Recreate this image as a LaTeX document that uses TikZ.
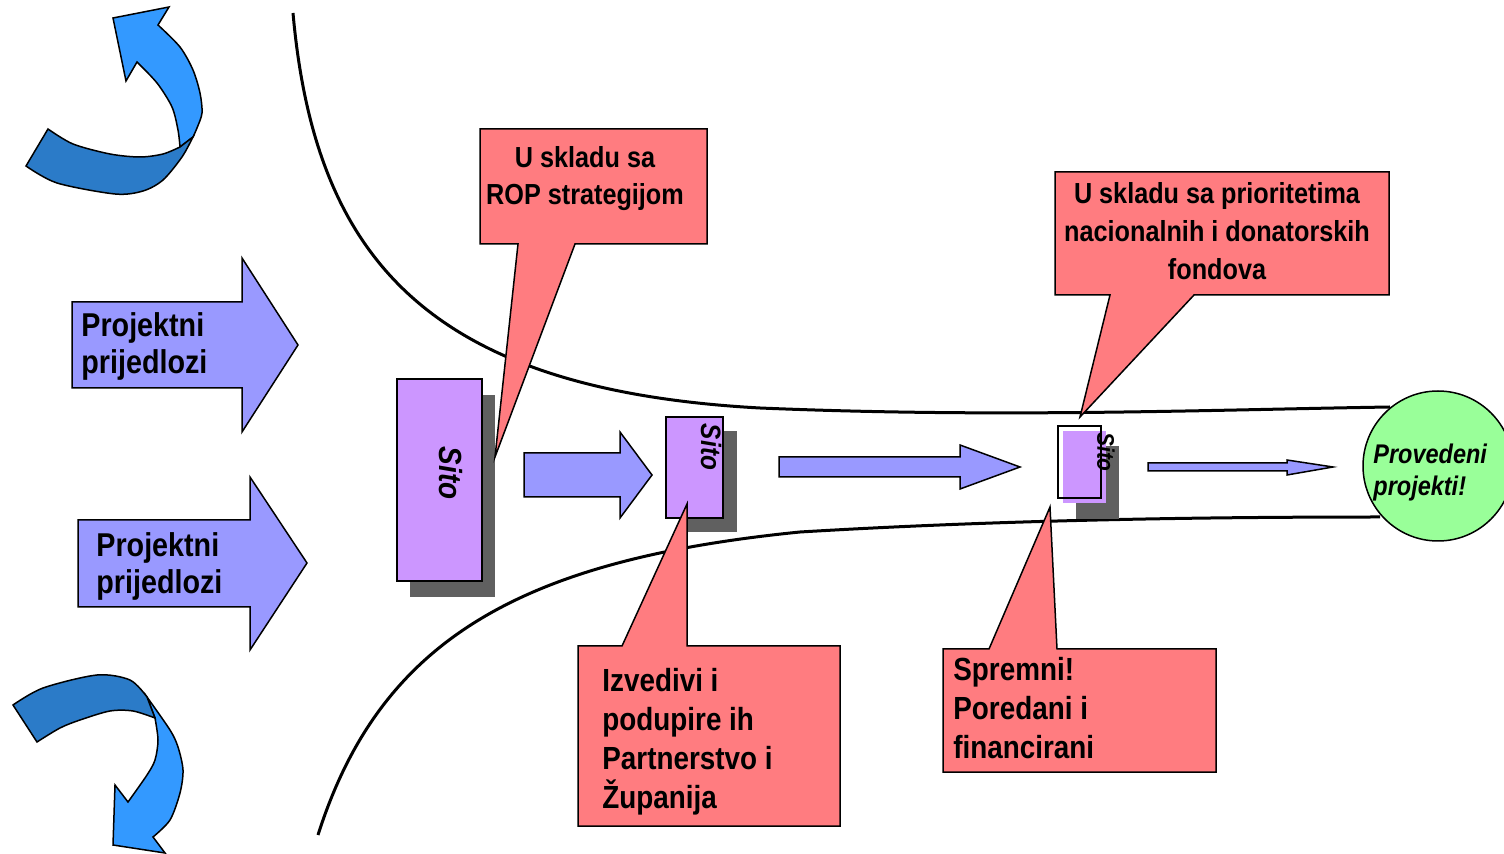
\documentclass[tikz,border=0pt]{standalone}
\usepackage{fontspec}
\setmainfont[FakeStretch=0.87]{Liberation Sans}
\usepackage{tikz}

\definecolor{arrowblue}{RGB}{153,153,255}
\definecolor{sitopurple}{RGB}{204,150,255}
\definecolor{callred}{RGB}{255,124,128}
\definecolor{donegreen}{RGB}{153,255,153}
\definecolor{ribbonlight}{RGB}{51,153,255}
\definecolor{ribbondark}{RGB}{43,123,200}
\definecolor{shadowgray}{RGB}{96,96,96}

\begin{document}
\begin{tikzpicture}[x=0.5pt,y=-0.5pt,
    funnel/.style={line width=1.5pt},
    blockarrow/.style={draw,fill=arrowblue,line width=0.75pt},
    ribbon/.style={draw,line width=0.75pt},
    sitobox/.style={draw,fill=sitopurple,line width=0.75pt},
    callout/.style={draw,fill=callred,line width=0.75pt},
    sitotext/.style={inner sep=0pt,rotate=-90,font=\bfseries\itshape},
    bigtext/.style={inner sep=0pt,font=\fontsize{16.5}{18.5}\selectfont\bfseries}]
  \useasboundingbox (0,0) rectangle (1504,854);

  % curved arrows on the left
  \filldraw[ribbon,fill=ribbonlight] plot[smooth] coordinates {(180,147) (178,130) (172,107) (157,83) (137,62)}
    -- (126,81) -- (113,18) -- (169,7) -- (158,25)
    -- plot[smooth] coordinates {(158,25) (180,47) (193,70) (200,93) (202,113) (197,128) (193,137)} -- cycle;
  \filldraw[ribbon,fill=ribbondark] plot[smooth] coordinates {(48,129) (73,144) (110,154) (140,157) (163,154) (180,147)}
    -- plot[smooth] coordinates {(193,137) (182,157) (163,180) (143,191) (115,194) (57,183) (26,166)} -- cycle;
  \filldraw[ribbon,fill=ribbonlight] plot[smooth] coordinates {(155,718) (158,740) (155,760) (147,775) (128,802)}
    -- (115,785) -- (113,845) -- (165,853) -- (153,837)
    -- plot[smooth] coordinates {(153,837) (170,820) (180,793) (183,770) (178,747) (170,730) (147,697)} -- cycle;
  \filldraw[ribbon,fill=ribbondark] plot[smooth] coordinates {(13,705) (43,688) (97,675) (130,680) (147,697)}
    -- plot[smooth] coordinates {(155,718) (133,711) (110,711) (80,720) (60,728) (37,742)} -- cycle;

  % funnel
  \draw[funnel] (293,13) .. controls (315,260) and (430,390) .. (760,408)
    .. controls (1000,418) and (1200,410) .. (1390,407);
  \draw[funnel] (318,835) .. controls (380,640) and (520,560) .. (800,532)
    .. controls (1000,520) and (1200,517) .. (1380,517);

  % incoming proposals
  \filldraw[blockarrow] (72,302) -- (242,302) -- (242,258) -- (298,345) -- (242,432) -- (242,388) -- (72,388) -- cycle;
  \filldraw[blockarrow] (78,520) -- (250,520) -- (250,477) -- (307,563) -- (250,650) -- (250,607) -- (78,607) -- cycle;
  \node[bigtext,anchor=west,align=left] (P-1) at (81,346) {Projektni\\prijedlozi};
  \node[bigtext,anchor=west,align=left] (P-2) at (96,566) {Projektni\\prijedlozi};

  % sieves
  \fill[shadowgray] (410,395) rectangle (495,597);
  \filldraw[sitobox] (397,379) rectangle (482,581);
  \node[sitotext,font=\fontsize{16}{19}\selectfont\bfseries\itshape] (S-1) at (451,473) {Sito};
  \fill[shadowgray] (680,431) rectangle (737,532);
  \filldraw[sitobox] (666,417) rectangle (723,518);
  \node[sitotext,font=\fontsize{14}{17}\selectfont\bfseries\itshape] (S-2) at (711,447) {Sito};
  \fill[shadowgray] (1076,446) rectangle (1119,519);
  \fill[sitopurple] (1063,431) rectangle (1106,503);
  \draw[line width=0.75pt] (1058,426) rectangle (1101,498);
  \node[sitotext,font=\fontsize{12}{14}\selectfont\bfseries\itshape] (S-3) at (1106,452) {Sito};

  % arrows between sieves
  \filldraw[blockarrow] (524,453) -- (620,453) -- (620,432) -- (652,475) -- (620,518) -- (620,497) -- (524,497) -- cycle;
  \filldraw[blockarrow] (779,457) -- (960,457) -- (960,445) -- (1020,467) -- (960,489) -- (960,477) -- (779,477) -- cycle;
  \filldraw[blockarrow] (1148,463) -- (1287,463) -- (1287,460) -- (1333,467) -- (1287,475) -- (1287,471) -- (1148,471) -- cycle;

  % result
  \node[draw,circle,fill=donegreen,line width=0.75pt,minimum size=75pt,inner sep=0pt] (E) at (1438,466) {};
  \node[inner sep=0pt,anchor=west,align=left,font=\fontsize{13.5}{16}\selectfont\bfseries\itshape] (E-text) at (1373,473) {Provedeni\\projekti!};

  % callouts
  \filldraw[callout] (480,129) -- (707,129) -- (707,244) -- (575,244) -- (495,457) -- (518,244) -- (480,244) -- cycle;
  \node[inner sep=0pt,align=center,font=\fontsize{14.5}{18.5}\selectfont\bfseries] (C-1) at (585,179) {U skladu sa\\ROP strategijom};
  \filldraw[callout] (1055,172) -- (1389,172) -- (1389,295) -- (1194,295) -- (1080,417) -- (1110,295) -- (1055,295) -- cycle;
  \node[inner sep=0pt,align=center,font=\fontsize{14.5}{19}\selectfont\bfseries] (C-4) at (1217,231) {U skladu sa prioritetima\\nacionalnih i donatorskih\\fondova};
  \filldraw[callout] (578,646) -- (622,646) -- (687,504) -- (687,646) -- (840,646) -- (840,826) -- (578,826) -- cycle;
  \node[inner sep=0pt,anchor=west,align=left,font=\fontsize{16}{19.5}\selectfont\bfseries] (C-2) at (602,742) {Izvedivi i\\podupire ih\\Partnerstvo i\\Županija};
  \filldraw[callout] (943,649) -- (989,649) -- (1050,507) -- (1057,649) -- (1216,649) -- (1216,772) -- (943,772) -- cycle;
  \node[inner sep=0pt,anchor=west,align=left,font=\fontsize{16}{19.5}\selectfont\bfseries] (C-3) at (953,708) {Spremni!\\Poredani i\\financirani};
\end{tikzpicture}
\end{document}
